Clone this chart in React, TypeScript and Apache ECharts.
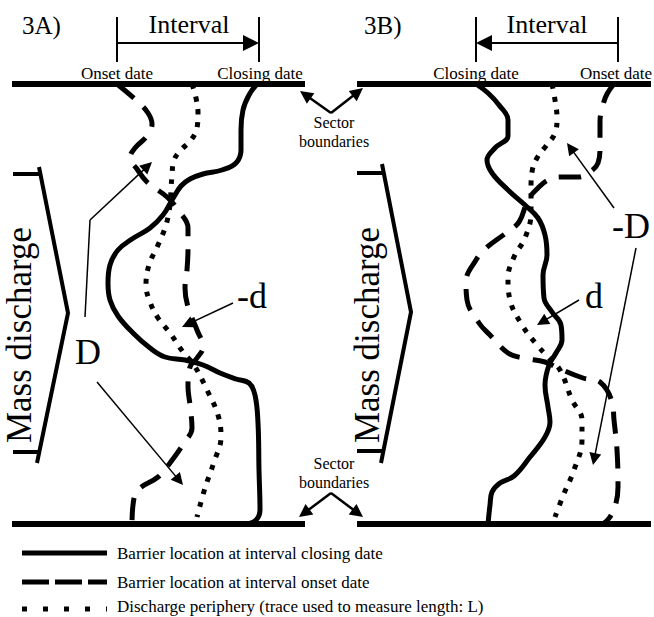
import React, { useEffect, useRef } from "react";
import * as echarts from "echarts";

// ---------- data (figure coordinates, x right, y down) ----------
const closingA: number[][] = [[257,84],[249,95],[243,110],[241,130],[241,150],[236,163],[222,170],[203,174],[190,179],[181,186],[172,200],[163,215],[150,228],[132,239],[118,250],[110,265],[108,283],[110,300],[118,316],[133,333],[150,348],[165,357],[185,360],[203,365],[220,373],[236,379],[249,383],[255,395],[258,423],[259,470],[260,510],[255,521],[244,524]];
const onsetA: number[][] = [[117,84],[137,101],[148,113],[152,124],[147,136],[135,148],[130,158],[137,169],[147,182],[167,197],[178,210],[188,228],[188,248],[187,270],[185,288],[188,307],[197,330],[203,347],[197,358],[190,367],[188,387],[190,405],[192,428],[184,443],[170,463],[158,477],[138,490],[133,505],[132,524]];
const peripheryA: number[][] = [[192,84],[196,98],[198,113],[197,128],[191,140],[181,150],[174,160],[172,175],[171,190],[170,205],[166,225],[158,245],[149,265],[146,285],[150,302],[158,318],[170,333],[183,352],[194,365],[207,390],[218,415],[221,437],[214,462],[205,488],[197,517]];

const closingB: number[][] = [[476,84],[488,93],[499,105],[508,120],[508,136],[495,148],[487,160],[492,173],[508,190],[525,205],[538,218],[545,235],[547,255],[543,275],[544,298],[552,312],[561,325],[562,340],[556,353],[549,365],[545,385],[548,407],[550,422],[545,437],[530,457],[514,476],[500,483],[492,492],[490,505],[488,524]];
const onsetB: number[][] = [[614,84],[607,94],[603,105],[600,122],[600,147],[598,163],[590,172],[578,177],[560,177],[548,180],[538,188],[528,200],[519,222],[506,233],[486,248],[476,260],[466,282],[467,300],[479,323],[490,335],[508,353],[523,358],[545,362],[558,368],[583,378],[600,382],[612,402],[614,420],[617,450],[618,487],[616,503],[610,517],[603,524]];
const peripheryB: number[][] = [[552,84],[555,100],[557,118],[555,133],[546,146],[537,158],[532,172],[531,190],[531,213],[525,238],[514,257],[508,278],[510,300],[522,325],[537,345],[548,357],[560,370],[572,400],[582,420],[582,440],[574,470],[563,496],[555,517]];

const boundaries: number[][][] = [
  [[12,84],[305,84]], [[357,84],[651,84]],
  [[12,524],[305,524]], [[357,524],[651,524]],
];
const massBracketA: number[][] = [[39,167],[68,313],[37,463]];
const massBracketB: number[][] = [[382,164],[411,312],[381,463]];
const bracketTicks: number[][][] = [
  [[13,174],[40,174]], [[13,452],[38,452]],
  [[357,173],[383,173]], [[357,451],[382,451]],
];
const intervalTicks: number[][][] = [
  [[117,17],[117,62]], [[259,17],[259,62]],
  [[476,17],[476,62]], [[618,17],[618,62]],
];
const intervalArrows: number[][][] = [
  [[117,43],[259,43]], [[618,43],[476,43]],
];
const sectorArrows: number[][][] = [
  [[331,113],[300,91]], [[331,113],[363,88]],
  [[331,493],[299,517]], [[331,493],[363,517]],
];
const dBendA: number[][] = [[85,317],[90,220]];
const thinArrows: number[][][] = [
  [[90,220],[152,162]],
  [[97,382],[183,485]],
  [[233,303],[182,327]],
  [[579,300],[537,325]],
  [[614,208],[567,143]],
  [[636,248],[593,465]],
];
const legendSolid: number[][] = [[22,553],[107,553]];
const legendDashed: number[][] = [[22,582],[107,582]];
const legendDotted: number[][] = [[22,609],[107,609]];
const legendLabels: string[] = [
  "Barrier location at interval closing date",
  "Barrier location at interval onset date",
  "Discharge periphery (trace used to measure length: L)",
];

const SERIF = "'Liberation Serif', 'Times New Roman', serif";

export default function App() {
  const ref = useRef<HTMLDivElement>(null);
  useEffect(() => {
    if (!ref.current) return;
    const chart = echarts.init(ref.current, undefined, { renderer: "svg" });

    const line = (data: number[][], width: number, type: any = "solid", smooth: number | boolean = false) => ({
      type: "line", data, smooth, symbol: "none", silent: true, clip: false,
      lineStyle: { color: "#000", width, type, cap: "butt", join: "round" },
    });
    const shorten = (seg: number[][], size: number) => {
      const [a, b] = seg;
      const dx = b[0] - a[0], dy = b[1] - a[1];
      const len = Math.hypot(dx, dy);
      const k = (size * 0.5) / len;
      return [a, [b[0] - dx * k, b[1] - dy * k]];
    };
    const arrows = (segs: number[][][], width: number, size: number) => ({
      type: "lines", coordinateSystem: "cartesian2d", silent: true,
      symbol: ["none", "triangle"], symbolSize: size,
      lineStyle: { color: "#000", width, curveness: 0, opacity: 1 },
      data: segs.map((s) => ({ coords: shorten(s, size) })),
    });
    const txt = (text: string, x: number, y: number, size: number, align = "center", rotation = 0) => ({
      type: "text", x, y, rotation, silent: true,
      style: {
        text, fill: "#000", font: `${size}px ${SERIF}`, fontSize: size, fontFamily: SERIF,
        align, verticalAlign: "middle", textAlign: align, textVerticalAlign: "middle",
      },
    });

    const series: any[] = [
      ...boundaries.map((b) => line(b, 6)),
      line(closingA, 5, "solid", 0.4),
      line(onsetA, 5, [22, 13], 0.4),
      line(peripheryA, 5, [5, 8], 0.4),
      line(closingB, 5, "solid", 0.4),
      line(onsetB, 5, [22, 13], 0.4),
      line(peripheryB, 5, [5, 8], 0.4),
      line(massBracketA, 4),
      line(massBracketB, 4),
      ...bracketTicks.map((t) => line(t, 4)),
      ...intervalTicks.map((t) => line(t, 2)),
      line(dBendA, 1.5),
      arrows(intervalArrows, 2, 16),
      arrows(sectorArrows, 2.5, 13),
      arrows(thinArrows, 1.5, 12),
      line(legendSolid, 5),
      line(legendDashed, 5, [27, 6]),
      line(legendDotted, 5, [5, 16]),
    ];

    chart.setOption({
      animation: false,
      backgroundColor: "#fff",
      grid: { left: 0, right: 0, top: 0, bottom: 0 },
      xAxis: { type: "value", min: 0, max: 654, show: false },
      yAxis: { type: "value", min: 0, max: 617, inverse: true, show: false },
      series,
      graphic: [
        txt("3A)", 22, 25, 25, "left"),
        txt("3B)", 364, 25, 25, "left"),
        txt("Interval", 189, 24, 26),
        txt("Interval", 547, 24, 26),
        txt("Onset date", 117, 73, 17),
        txt("Closing date", 260, 73, 17),
        txt("Closing date", 476, 73, 17),
        txt("Onset date", 616, 73, 17),
        txt("Sector", 334, 122, 16),
        txt("boundaries", 334, 141, 16),
        txt("Sector", 334, 463, 16),
        txt("boundaries", 334, 482, 16),
        txt("Mass discharge", 19, 335, 35, "center", Math.PI / 2),
        txt("Mass discharge", 367, 335, 35, "center", Math.PI / 2),
        txt("D", 88, 352, 36),
        txt("-d", 252, 296, 36),
        txt("d", 594, 296, 36),
        txt("-D", 631, 226, 36),
        txt(legendLabels[0], 117, 553, 17, "left"),
        txt(legendLabels[1], 117, 582, 17, "left"),
        txt(legendLabels[2], 117, 606, 17, "left"),
      ],
    });
    return () => chart.dispose();
  }, []);
  return (
    <div
      ref={ref}
      style={{ position: "absolute", left: 0, top: 0, width: 654, height: 617, background: "#fff" }}
    />
  );
}
